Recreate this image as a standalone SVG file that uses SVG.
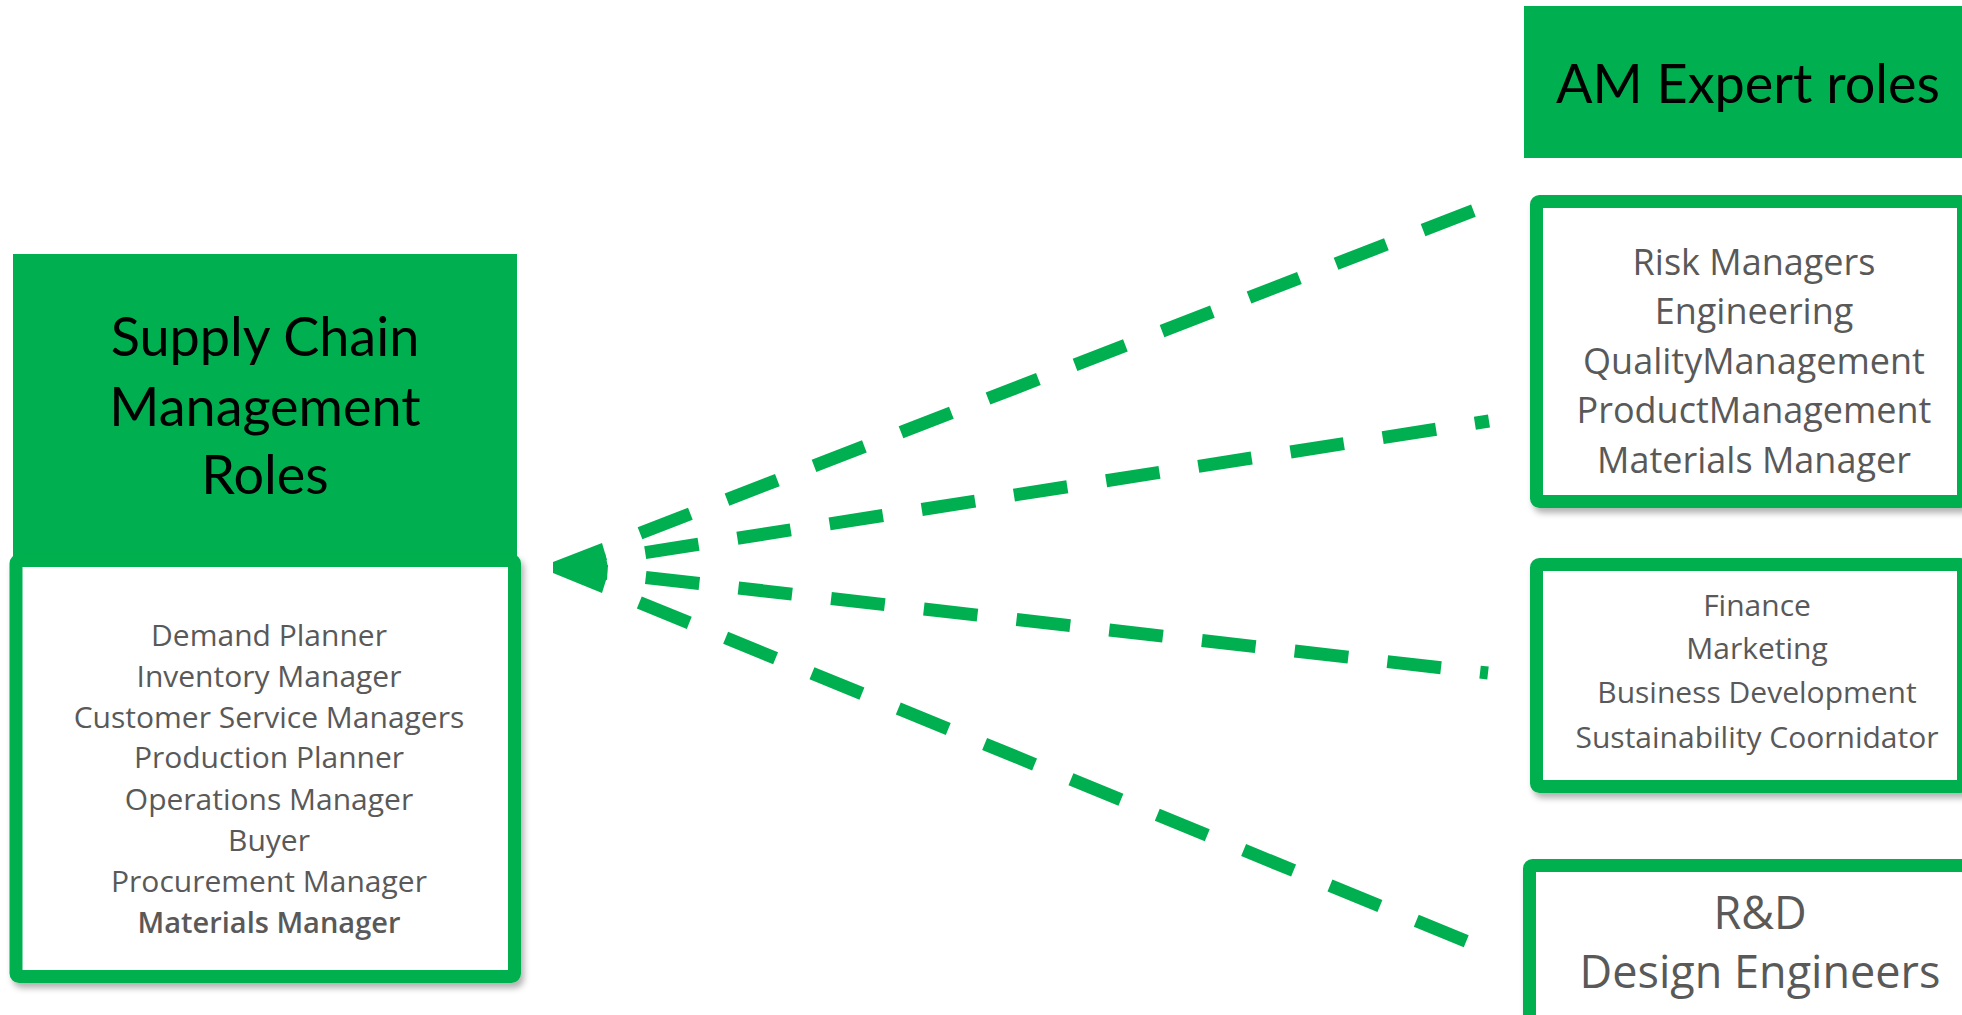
<svg xmlns="http://www.w3.org/2000/svg" width="1962" height="1015" viewBox="0 0 1962 1015">
<style>
.hdr{fill:#00B050}
.box{fill:#FFFFFF;stroke:#00B050;stroke-width:13}
.title{font-family:Lato,"Liberation Sans",sans-serif;fill:#000;text-anchor:middle}
.item{font-family:"Open Sans","Noto Sans",sans-serif;fill:#595959;text-anchor:middle}
.conn{fill:none;stroke:#00B050;stroke-width:13;stroke-dasharray:54 39.3;stroke-linecap:butt}
.head{fill:#00B050}
</style>
<defs>
<filter id="sh" x="-10%" y="-10%" width="130%" height="130%">
<feDropShadow dx="3" dy="5" stdDeviation="3" flood-color="#000" flood-opacity="0.3"/>
</filter>
</defs>
<rect width="1962" height="1015" fill="#FFFFFF"/>

<g id="connectors">
<g id="c1"><path class="conn" d="M640,533.3 L1475,210"/><polygon class="head" points="553,562 602,543 607,560 553,567"/></g>
<g id="c2"><path class="conn" d="M645.2,552.6 L1489,421"/><polygon class="head" points="553,565 605,553 608,567 553,568"/></g>
<g id="c3"><path class="conn" d="M645.7,577.5 L1488,673"/><polygon class="head" points="553,566 608,565 607,580 553,570"/></g>
<g id="c4"><path class="conn" d="M639.3,602.4 L1468,942"/><polygon class="head" points="553,567 607,577 602,593 553,573"/></g>
</g>

<g id="scm-header">
<rect class="hdr" x="13" y="254" width="504" height="310"/>
<text class="title" font-size="54" x="265" y="356">Supply Chain</text>
<text class="title" font-size="54" x="265" y="426">Management</text>
<text class="title" font-size="54" x="265" y="494">Roles</text>
</g>

<g id="scm-roles">
<rect class="box" x="16" y="560.5" width="498.5" height="416" rx="3" filter="url(#sh)"/>
<g font-size="30">
<text class="item" x="269" y="646">Demand Planner</text>
<text class="item" x="269" y="687">Inventory Manager</text>
<text class="item" x="269" y="728">Customer Service Managers</text>
<text class="item" x="269" y="768">Production Planner</text>
<text class="item" x="269" y="810">Operations Manager</text>
<text class="item" x="269" y="851">Buyer</text>
<text class="item" x="269" y="892">Procurement Manager</text>
<text class="item" x="269" y="933" font-weight="600" fill="#404040" font-size="29">Materials Manager</text>
</g>
</g>

<g id="am-header">
<rect class="hdr" x="1524" y="6" width="440" height="152"/>
<text class="title" font-size="54" x="1748" y="103">AM Expert roles</text>
</g>

<g id="am-box1">
<rect class="box" x="1536.5" y="201.5" width="427" height="300" rx="3" filter="url(#sh)"/>
<g font-size="36">
<text class="item" x="1754" y="275">Risk Managers</text>
<text class="item" x="1754" y="324">Engineering</text>
<text class="item" x="1754" y="374">QualityManagement</text>
<text class="item" x="1754" y="423">ProductManagement</text>
<text class="item" x="1754" y="473" font-weight="500" fill="#4a4a4a">Materials Manager</text>
</g>
</g>

<g id="am-box2">
<rect class="box" x="1536.5" y="564.5" width="427" height="222" rx="3" filter="url(#sh)"/>
<g font-size="30">
<text class="item" x="1757" y="616">Finance</text>
<text class="item" x="1757" y="659">Marketing</text>
<text class="item" x="1757" y="703">Business Development</text>
<text class="item" x="1757" y="748">Sustainability Coornidator</text>
</g>
</g>

<g id="am-box3">
<rect class="box" x="1529.5" y="865.5" width="440" height="200" rx="3" filter="url(#sh)"/>
<g font-size="45">
<text class="item" x="1760" y="929">R&amp;D</text>
<text class="item" x="1760" y="988">Design Engineers</text>
</g>
</g>
</svg>
